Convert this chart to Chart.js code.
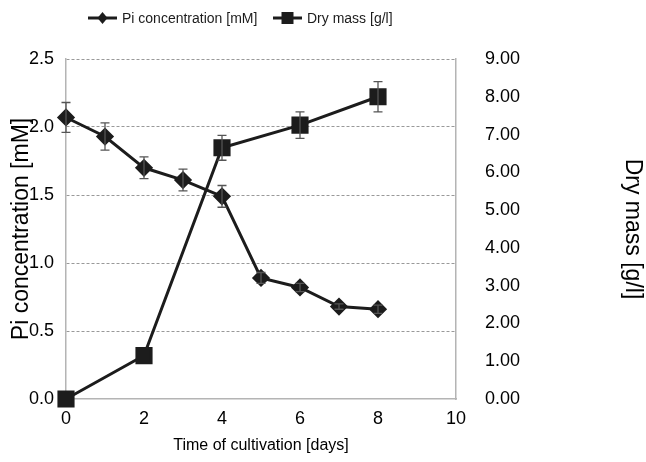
<!DOCTYPE html>
<html>
<head>
<meta charset="utf-8">
<script src="https://cdn.jsdelivr.net/npm/chart.js@4"></script>
<style>
  html, body { margin: 0; padding: 0; background: #fff; }
  #wrap { width: 646px; height: 462px; position: relative; }
</style>
</head>
<body>
<div id="wrap"><canvas id="chart"></canvas></div>
<script>
const days = [0, 1, 2, 3, 4, 5, 6, 7, 8];
const piConc = [2.07, 1.93, 1.70, 1.61, 1.49, 0.89, 0.82, 0.68, 0.66];
const piErr = [0.11, 0.10, 0.08, 0.08, 0.08, 0.04, 0.03, 0.02, 0.03];
const massDays = [0, 2, 4, 6, 8];
const dryMass = [0.00, 1.15, 6.65, 7.25, 8.00];
const massErr = [0, 0, 0.33, 0.35, 0.40];
const seriesNames = ["Pi concentration [mM]", "Dry mass [g/l]"];

const FONT = "'Liberation Sans', Arial, sans-serif";
const ink = "#1c1c1c";
const axisGrey = "#b4b4b4";

const errorBars = {
  id: "errorBars",
  afterDatasetsDraw(chart) {
    const ctx = chart.ctx;
    ctx.save();
    ctx.strokeStyle = "#555";
    ctx.lineWidth = 1.3;
    chart.data.datasets.forEach(function (ds) {
      if (!ds.errors) return;
      const xs = chart.scales.x;
      const ys = chart.scales[ds.yAxisID];
      ds.data.forEach(function (pt, j) {
        const e = ds.errors[j];
        if (!e) return;
        const px = xs.getPixelForValue(pt.x);
        const top = ys.getPixelForValue(pt.y + e);
        const bot = ys.getPixelForValue(pt.y - e);
        ctx.beginPath();
        ctx.moveTo(px, top); ctx.lineTo(px, bot);
        ctx.moveTo(px - 4.5, top); ctx.lineTo(px + 4.5, top);
        ctx.moveTo(px - 4.5, bot); ctx.lineTo(px + 4.5, bot);
        ctx.stroke();
      });
    });
    ctx.restore();
  },
};

// legend drawn by hand: line + marker, then the label
const lineLegend = {
  id: "lineLegend",
  afterDraw(chart) {
    const ctx = chart.ctx;
    const y = 18;
    const items = [
      { x: 88, shape: "diamond" },
      { x: 273, shape: "square" },
    ];
    ctx.save();
    ctx.fillStyle = ink;
    ctx.strokeStyle = ink;
    ctx.lineWidth = 3;
    ctx.font = "14px " + FONT;
    ctx.textBaseline = "middle";
    items.forEach(function (it, i) {
      ctx.beginPath();
      ctx.moveTo(it.x, y);
      ctx.lineTo(it.x + 29, y);
      ctx.stroke();
      const cx = it.x + 14.5;
      ctx.beginPath();
      if (it.shape === "diamond") {
        ctx.moveTo(cx, y - 6); ctx.lineTo(cx + 5, y); ctx.lineTo(cx, y + 6); ctx.lineTo(cx - 5, y);
      } else {
        ctx.rect(cx - 6, y - 6, 12, 12);
      }
      ctx.closePath();
      ctx.fill();
      ctx.fillText(seriesNames[i], it.x + 34, y + 1);
    });
    ctx.restore();
  },
};

new Chart(document.getElementById("chart"), {
  type: "line",
  data: {
    datasets: [
      {
        label: seriesNames[0],
        data: days.map(function (d, i) { return { x: d, y: piConc[i] }; }),
        errors: piErr,
        yAxisID: "y",
        borderColor: ink,
        backgroundColor: ink,
        borderWidth: 3,
        pointStyle: "rectRot",
        pointRadius: 7,
        tension: 0,
        clip: false,
      },
      {
        label: seriesNames[1],
        data: massDays.map(function (d, i) { return { x: d, y: dryMass[i] }; }),
        errors: massErr,
        yAxisID: "y2",
        borderColor: ink,
        backgroundColor: ink,
        borderWidth: 3,
        pointStyle: "rect",
        pointRadius: 10,
        tension: 0,
        clip: false,
      },
    ],
  },
  options: {
    responsive: true,
    maintainAspectRatio: false,
    animation: false,
    layout: { padding: { top: 59, right: 0, left: 0, bottom: 0 } },
    plugins: {
      tooltip: { enabled: false },
      legend: { display: false },
    },
    scales: {
      x: {
        type: "linear",
        min: 0,
        max: 10,
        ticks: { stepSize: 2, color: "#000", font: { family: FONT, size: 18 }, padding: 9 },
        grid: { display: false, drawTicks: false },
        border: { color: axisGrey, width: 1.5 },
        afterFit: function (s) { s.height = 63; },
        title: { display: true, text: "Time of cultivation [days]", color: "#000", font: { family: FONT, size: 16 }, padding: { top: 7, bottom: 7 } },
      },
      y: {
        position: "left",
        min: 0,
        max: 2.5,
        ticks: {
          stepSize: 0.5,
          color: "#000",
          font: { family: FONT, size: 18 },
          padding: 12,
          callback: function (v) { return Number(v).toFixed(1); },
        },
        grid: {
          drawTicks: false,
          color: function (c) { return c.tick.value === 0 ? "rgba(0,0,0,0)" : "#999"; },
          lineWidth: 1,
        },
        border: { color: axisGrey, width: 1.5, dash: [3, 2] },
        afterFit: function (s) { s.width = 66; },
        title: { display: true, text: "Pi concentration [mM]", color: "#000", font: { family: FONT, size: 23 }, padding: { top: 8, bottom: 8 } },
      },
      y2: {
        position: "right",
        min: 0,
        max: 9,
        ticks: {
          stepSize: 1,
          color: "#000",
          font: { family: FONT, size: 18 },
          padding: 29,
          callback: function (v) { return Number(v).toFixed(2); },
        },
        grid: { display: false, drawTicks: false },
        border: { color: axisGrey, width: 1.5 },
        afterFit: function (s) { s.width = 190; },
        title: { display: true, text: "Dry mass [g/l]", color: "#000", font: { family: FONT, size: 23 }, padding: { top: 0, bottom: 0 } },
      },
    },
  },
  plugins: [errorBars, lineLegend],
});
</script>
</body>
</html>
